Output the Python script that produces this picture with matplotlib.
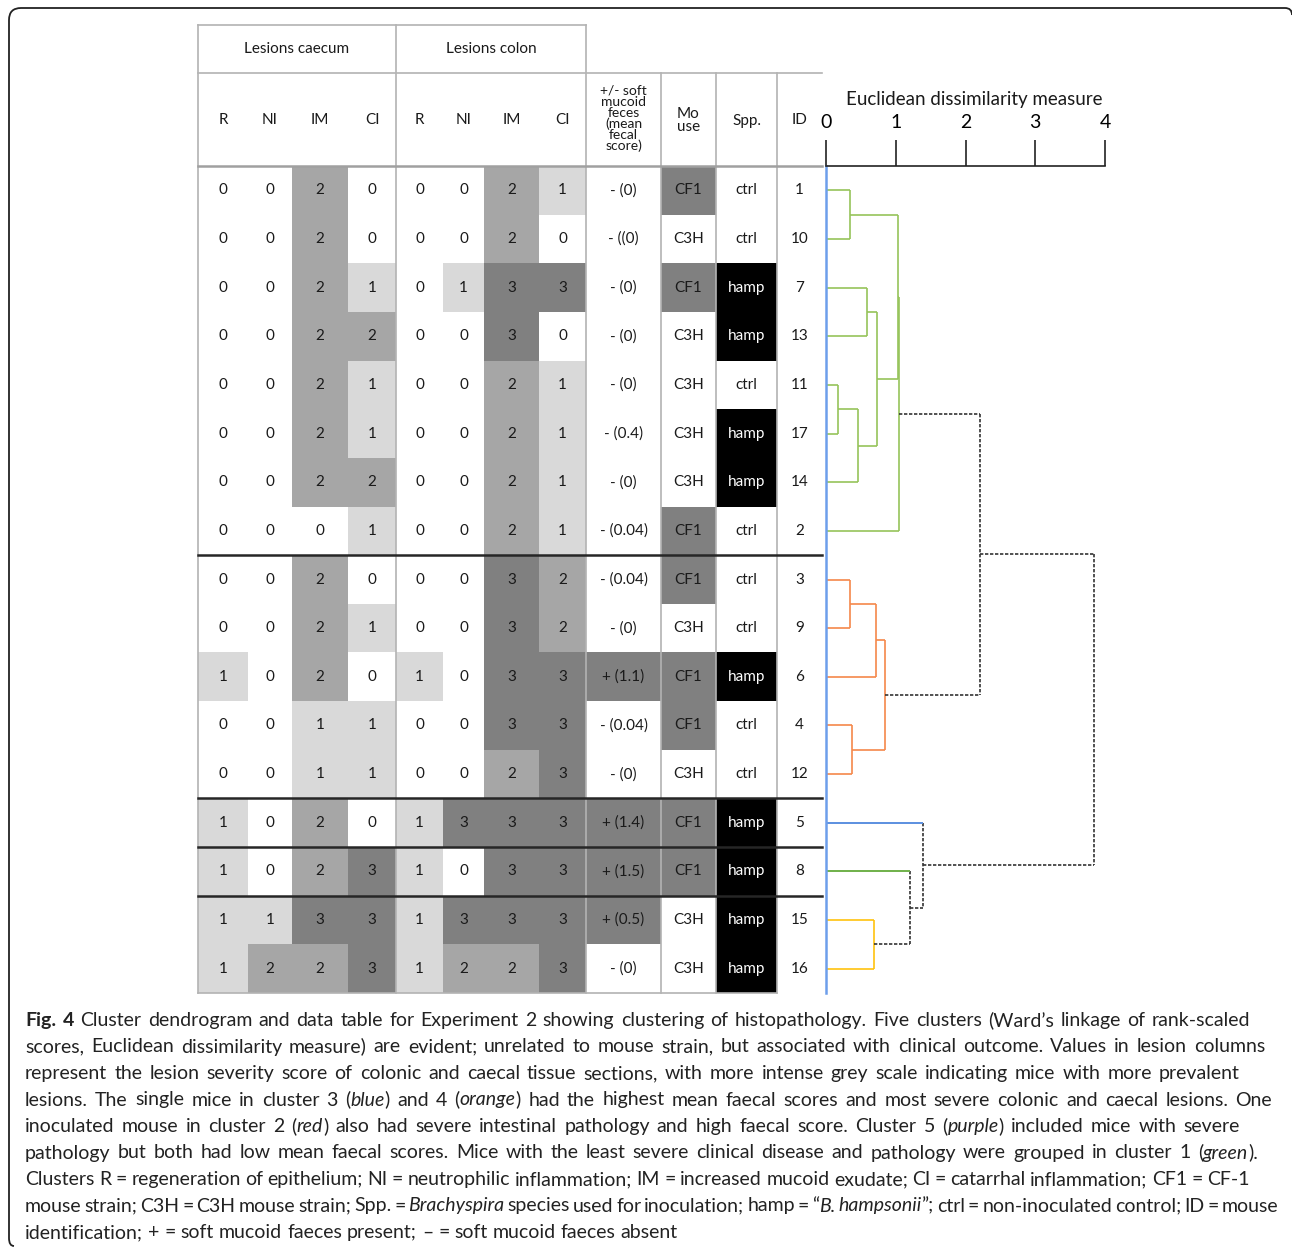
import matplotlib
matplotlib.use('Agg')
import matplotlib.pyplot as plt
from matplotlib.patches import Rectangle
from matplotlib.path import Path
from matplotlib.patches import PathPatch

# ---- table data (rows in dendrogram order) ----
ids = [1, 10, 7, 13, 11, 17, 14, 2, 3, 9, 6, 4, 12, 5, 8, 15, 16]
caecum_R = [0, 0, 0, 0, 0, 0, 0, 0, 0, 0, 1, 0, 0, 1, 1, 1, 1]
caecum_NI = [0, 0, 0, 0, 0, 0, 0, 0, 0, 0, 0, 0, 0, 0, 0, 1, 2]
caecum_IM = [2, 2, 2, 2, 2, 2, 2, 0, 2, 2, 2, 1, 1, 2, 2, 3, 2]
caecum_CI = [0, 0, 1, 2, 1, 1, 2, 1, 0, 1, 0, 1, 1, 0, 3, 3, 3]
colon_R = [0, 0, 0, 0, 0, 0, 0, 0, 0, 0, 1, 0, 0, 1, 1, 1, 1]
colon_NI = [0, 0, 1, 0, 0, 0, 0, 0, 0, 0, 0, 0, 0, 3, 0, 3, 2]
colon_IM = [2, 2, 3, 3, 2, 2, 2, 2, 3, 3, 3, 3, 2, 3, 3, 3, 2]
colon_CI = [1, 0, 3, 0, 1, 1, 1, 1, 2, 2, 3, 3, 3, 3, 3, 3, 3]
feces = ['- (0)', '- ((0)', '- (0)', '- (0)', '- (0)', '- (0.4)', '- (0)', '- (0.04)',
         '- (0.04)', '- (0)', '+ (1.1)', '- (0.04)', '- (0)', '+ (1.4)', '+ (1.5)',
         '+ (0.5)', '- (0)']
mouse = ['CF1', 'C3H', 'CF1', 'C3H', 'C3H', 'C3H', 'C3H', 'CF1', 'CF1', 'C3H', 'CF1',
         'CF1', 'C3H', 'CF1', 'CF1', 'C3H', 'C3H']
spp = ['ctrl', 'ctrl', 'hamp', 'hamp', 'ctrl', 'hamp', 'hamp', 'ctrl', 'ctrl', 'ctrl',
       'hamp', 'ctrl', 'ctrl', 'hamp', 'hamp', 'hamp', 'hamp']
cluster_sizes = [8, 5, 1, 1, 2]

sub_labels = ['R', 'NI', 'IM', 'CI', 'R', 'NI', 'IM', 'CI',
              '+/- soft\nmucoid\nfeces\n(mean\nfecal\nscore)', 'Mo\nuse', 'Spp.', 'ID']
group_labels = ['Lesions caecum', 'Lesions colon']

# ---- dendrogram data: (node, children, height, link colour key) ----
merges = [
    ('a', [1, 10], 0.35, 'green'),
    ('b', [7, 13], 0.59, 'green'),
    ('c', [11, 17], 0.17, 'green'),
    ('d', ['c', 14], 0.46, 'green'),
    ('e', ['b', 'd'], 0.73, 'green'),
    ('f', ['a', 'e'], 1.03, 'green'),
    ('g', ['f', 2], 1.04, 'green'),
    ('h', [3, 9], 0.35, 'orange'),
    ('i', ['h', 6], 0.72, 'orange'),
    ('j', [4, 12], 0.37, 'orange'),
    ('k', ['i', 'j'], 0.85, 'orange'),
    ('l', ['g', 'k'], 2.21, 'join'),
    ('m', [15, 16], 0.69, 'yellow'),
    ('n', [8, 'm'], 1.20, 'join'),
    ('o', [5, 'n'], 1.39, 'join'),
    ('p', ['l', 'o'], 3.84, 'join'),
]
single_leaf = {5: 'blue', 8: 'green2'}
dist_ticks = [0, 1, 2, 3, 4]

link_style = {
    'green': dict(color='#96c35a', ls='-'),
    'orange': dict(color='#f5884a', ls='-'),
    'yellow': dict(color='#ffc20e', ls='-'),
    'blue': dict(color='#5b8fe0', ls='-'),
    'green2': dict(color='#6fb04a', ls='-'),
    'join': dict(color='#333333', ls=(0, (2, 1))),
}

caption = [
    [("Fig. 4", 'b'), (" Cluster dendrogram and data table for Experiment 2 showing clustering of histopathology. Five clusters (Ward\u2019s linkage of rank-scaled", 'n')],
    [("scores, Euclidean dissimilarity measure) are evident; unrelated to mouse strain, but associated with clinical outcome. Values in lesion columns", 'n')],
    [("represent the lesion severity score of colonic and caecal tissue sections, with more intense grey scale indicating mice with more prevalent", 'n')],
    [("lesions. The single mice in cluster 3 (", 'n'), ("blue", 'i'), (") and 4 (", 'n'), ("orange", 'i'), (") had the highest mean faecal scores and most severe colonic and caecal lesions. One", 'n')],
    [("inoculated mouse in cluster 2 (", 'n'), ("red", 'i'), (") also had severe intestinal pathology and high faecal score. Cluster 5 (", 'n'), ("purple", 'i'), (") included mice with severe", 'n')],
    [("pathology but both had low mean faecal scores. Mice with the least severe clinical disease and pathology were grouped in cluster 1 (", 'n'), ("green", 'i'), (").", 'n')],
    [("Clusters R = regeneration of epithelium; NI = neutrophilic inflammation; IM = increased mucoid exudate; CI = catarrhal inflammation; CF1 = CF-1", 'n')],
    [("mouse strain; C3H = C3H mouse strain; Spp. = ", 'n'), ("Brachyspira", 'i'), (" species used for inoculation; hamp = \u201c", 'n'), ("B. hampsonii", 'i'), ("\u201d; ctrl = non-inoculated control; ID = mouse", 'n')],
    [("identification; + = soft mucoid faeces present; \u2013 = soft mucoid faeces absent", 'n')],
]
# right end of each caption line in the reference (pixels)
caption_ends = [1250, 1265, 1240, 1272, 1240, 1258, 1250, 1278, 664]

grey = {0: None, 1: '#d9d9d9', 2: '#a6a6a6', 3: '#808080'}

plt.rcParams['font.family'] = ['Lato', 'DejaVu Sans']
fig = plt.figure(figsize=(12.92, 12.53), dpi=100)
ax = fig.add_axes([0, 0, 1, 1])
ax.set_xlim(0, 1292)
ax.set_ylim(1253, 0)
ax.axis('off')

# outer frame (left + top edges, rounded corners)
verts = [(14, 1246), (9, 1246), (9, 1238), (9, 20), (9, 8), (21, 8), (1285, 8), (1292, 8), (1292, 15)]
codes = [Path.MOVETO, Path.CURVE3, Path.CURVE3, Path.LINETO, Path.CURVE3, Path.CURVE3,
         Path.LINETO, Path.CURVE3, Path.CURVE3]
ax.add_patch(PathPatch(Path(verts, codes), fill=False, lw=1.3, edgecolor='#222222'))

# ---- table geometry ----
col_edges = [198, 248, 292, 348, 396, 443, 484, 539, 586, 661, 716, 777, 822]
head_top, head_mid, body_top, body_bot = 25, 73, 166, 993
n_rows = len(ids)
row_h = (body_bot - body_top) / n_rows
score_cols = [caecum_R, caecum_NI, caecum_IM, caecum_CI, colon_R, colon_NI, colon_IM, colon_CI]
FS = 11
txt_kw = dict(ha='center', va='center', fontsize=FS, color='#1a1a1a')

for i in range(n_rows):
    y0 = body_top + i * row_h
    yc = y0 + row_h / 2
    for j, col in enumerate(score_cols):
        x0, x1 = col_edges[j], col_edges[j + 1]
        fc = grey[col[i]]
        if fc:
            ax.add_patch(Rectangle((x0, y0), x1 - x0, row_h, facecolor=fc, edgecolor='none'))
        ax.text((x0 + x1) / 2, yc, str(col[i]), **txt_kw)
    # feces
    x0, x1 = col_edges[8], col_edges[9]
    if feces[i].startswith('+'):
        ax.add_patch(Rectangle((x0, y0), x1 - x0, row_h, facecolor='#808080', edgecolor='none'))
    ax.text((x0 + x1) / 2, yc, feces[i], **txt_kw)
    # mouse strain
    x0, x1 = col_edges[9], col_edges[10]
    if mouse[i] == 'CF1':
        ax.add_patch(Rectangle((x0, y0), x1 - x0, row_h, facecolor='#808080', edgecolor='none'))
    ax.text((x0 + x1) / 2, yc, mouse[i], **txt_kw)
    # species
    x0, x1 = col_edges[10], col_edges[11]
    if spp[i] == 'hamp':
        ax.add_patch(Rectangle((x0, y0), x1 - x0, row_h, facecolor='black', edgecolor='none'))
        ax.text((x0 + x1) / 2, yc, spp[i], ha='center', va='center', fontsize=FS, color='white')
    else:
        ax.text((x0 + x1) / 2, yc, spp[i], **txt_kw)
    # id
    x0, x1 = col_edges[11], col_edges[12]
    ax.text((x0 + x1) / 2, yc, str(ids[i]), **txt_kw)

# grid lines
gl = dict(color='#b3b3b3', lw=1.2)
for x in [198, 396, 586]:
    ax.plot([x, x], [head_top, body_bot], **gl)
for x in [661, 716, 777]:
    ax.plot([x, x], [head_mid, body_bot], **gl)
ax.plot([198, 586], [head_top, head_top], **gl)
ax.plot([198, 822], [head_mid, head_mid], **gl)
ax.plot([198, 822], [body_top, body_top], color='#a0a0a0', lw=1.8)
ax.plot([198, 777], [body_bot, body_bot], **gl)

# cluster separators
k = 0
for s in cluster_sizes[:-1]:
    k += s
    y = body_top + k * row_h
    ax.plot([198, 822], [y, y], color='#262626', lw=1.8)

# header text
for g, lab in enumerate(group_labels):
    ax.text((col_edges[4 * g] + col_edges[4 * g + 4]) / 2, (head_top + head_mid) / 2, lab,
            ha='center', va='center', fontsize=FS, color='#1a1a1a')
for j, lab in enumerate(sub_labels):
    fs = 10 if j == 8 else FS
    ax.text((col_edges[j] + col_edges[j + 1]) / 2, (head_mid + body_top) / 2 + (-1 if j == 8 else 1),
            lab, ha='center', va='center', fontsize=fs, color='#1a1a1a',
            linespacing=0.9 if j == 8 else 0.95)

# ---- dendrogram ----
dax = fig.add_axes([826 / 1292, (1253 - body_bot) / 1253, (1105 - 826) / 1292,
                    (body_bot - body_top) / 1253])
dax.set_xlim(0, 4)
dax.set_ylim(n_rows - 0.5, -0.5)
dax.patch.set_alpha(0)
for sp in ['right', 'bottom']:
    dax.spines[sp].set_visible(False)
dax.spines['left'].set_color('#6d9eeb')
dax.spines['left'].set_linewidth(1.8)
dax.spines['top'].set_color('#222222')
dax.spines['top'].set_linewidth(1.2)
dax.set_yticks([])
dax.xaxis.tick_top()
dax.set_xticks(dist_ticks)
dax.tick_params(axis='x', direction='out', length=19, width=1.2, color='#222222',
                labelsize=14, pad=6)
dax.xaxis.set_label_position('top')
dax.set_xlabel('Euclidean dissimilarity measure', fontsize=13.5, color='#1a1a1a')
dax.xaxis.set_label_coords((974 - 826) / (1105 - 826), (body_bot - 99) / (body_bot - body_top))
dax.xaxis.label.set_va('center')

node = {leaf: (i, 0.0) for i, leaf in enumerate(ids)}
for name, children, h, key in merges:
    st = link_style[key]
    ys = [node[c][0] for c in children]
    dax.plot([h, h], [min(ys), max(ys)], color=st['color'], ls=st['ls'], lw=1.2,
             clip_on=False, solid_capstyle='butt')
    for c in children:
        cy, ch = node[c]
        cst = link_style[single_leaf[c]] if c in single_leaf else st
        dax.plot([ch, h], [cy, cy], color=cst['color'], ls=cst['ls'], lw=1.4 if c in single_leaf else 1.2,
                 clip_on=False, solid_capstyle='butt')
    node[name] = ((min(ys) + max(ys)) / 2, h)

# ---- caption (word by word, spaced to the reference line ends) ----
renderer = fig.canvas.get_renderer()
styles = {'n': dict(), 'b': dict(weight='bold'), 'i': dict(style='italic')}


def seg_width(txt, kind, size):
    t1 = ax.text(0, 0, '|' + txt + '|', fontsize=size, **styles[kind])
    t2 = ax.text(0, 0, '||', fontsize=size, **styles[kind])
    w = t1.get_window_extent(renderer).width - t2.get_window_extent(renderer).width
    t1.remove()
    t2.remove()
    return w


def split_words(line):
    words, cur = [], []
    for t, kd in line:
        parts = t.split(' ')
        for pi, p in enumerate(parts):
            if pi > 0:
                if cur:
                    words.append(cur)
                cur = []
            if p:
                cur.append((p, kd))
    if cur:
        words.append(cur)
    return words


base = 14.0
ratios = []
for line, end in zip(caption[:-1], caption_ends[:-1]):
    w = sum(seg_width(t, kd, base) for t, kd in line)
    ratios.append((end - 25) / w)
cap_size = base * (0.3 * min(ratios) + 0.7 * sum(ratios) / len(ratios))
space_w = seg_width(' ', 'n', cap_size)

for li, line in enumerate(caption):
    words = split_words(line)
    wws = [sum(seg_width(t, kd, cap_size) for t, kd in wd) for wd in words]
    natural = sum(wws) + space_w * (len(words) - 1)
    if li < len(caption) - 1:
        gap = space_w + (caption_ends[li] - 25 - natural) / (len(words) - 1)
        gap = max(gap, 0.45 * space_w)
    else:
        gap = space_w
    x = 25
    y = 1026 + li * 26.5
    for wd, ww in zip(words, wws):
        xx = x
        for t, kd in wd:
            ax.text(xx, y, t, fontsize=cap_size, va='baseline', ha='left', color='#222222', **styles[kd])
            xx += seg_width(t, kd, cap_size)
        x += ww + gap

fig.savefig('out.png', dpi=100)
